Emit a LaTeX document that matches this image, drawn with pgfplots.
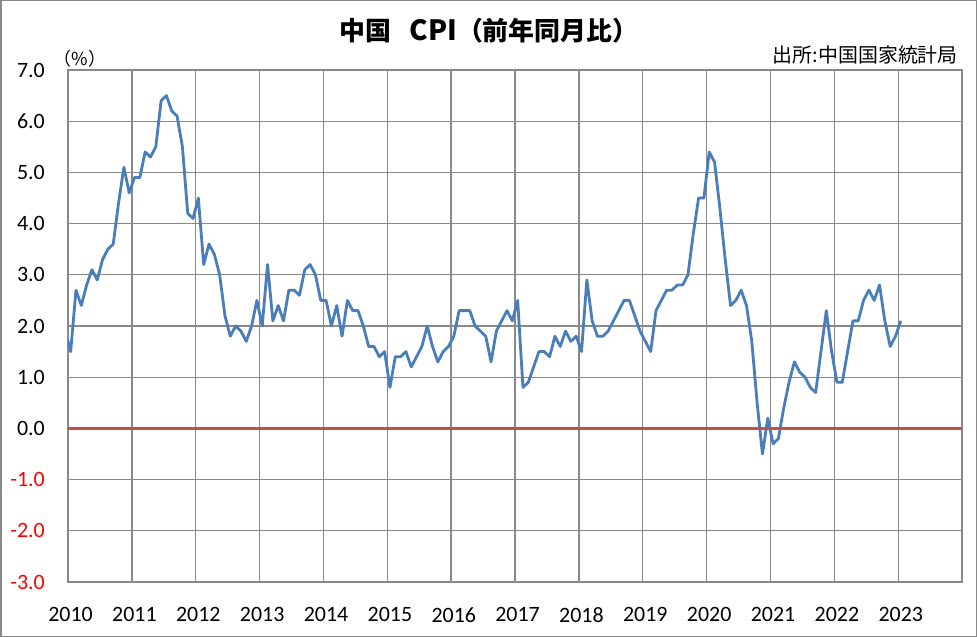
\documentclass[border=0pt]{standalone}
\usepackage{fontspec}
\setmainfont{Carlito}
\newfontfamily\cjk{Noto Sans CJK JP}
\usepackage{pgfplots}
\pgfplotsset{compat=1.18}
\usepackage{pgfplotstable}
\definecolor{gridgray}{HTML}{898989}
\definecolor{cpiblue}{HTML}{4A7EBB}
\definecolor{zerored}{HTML}{C0504D}
\definecolor{negred}{HTML}{FF0000}

\pgfplotstableread{
i v
-1 1.9
0 1.5
1 2.7
2 2.4
3 2.8
4 3.1
5 2.9
6 3.3
7 3.5
8 3.6
9 4.4
10 5.1
11 4.6
12 4.9
13 4.9
14 5.4
15 5.3
16 5.5
17 6.4
18 6.5
19 6.2
20 6.1
21 5.5
22 4.2
23 4.1
24 4.5
25 3.2
26 3.6
27 3.4
28 3.0
29 2.2
30 1.8
31 2.0
32 1.9
33 1.7
34 2.0
35 2.5
36 2.0
37 3.2
38 2.1
39 2.4
40 2.1
41 2.7
42 2.7
43 2.6
44 3.1
45 3.2
46 3.0
47 2.5
48 2.5
49 2.0
50 2.4
51 1.8
52 2.5
53 2.3
54 2.3
55 2.0
56 1.6
57 1.6
58 1.4
59 1.5
60 0.8
61 1.4
62 1.4
63 1.5
64 1.2
65 1.4
66 1.6
67 2.0
68 1.6
69 1.3
70 1.5
71 1.6
72 1.8
73 2.3
74 2.3
75 2.3
76 2.0
77 1.9
78 1.8
79 1.3
80 1.9
81 2.1
82 2.3
83 2.1
84 2.5
85 0.8
86 0.9
87 1.2
88 1.5
89 1.5
90 1.4
91 1.8
92 1.6
93 1.9
94 1.7
95 1.8
96 1.5
97 2.9
98 2.1
99 1.8
100 1.8
101 1.9
102 2.1
103 2.3
104 2.5
105 2.5
106 2.2
107 1.9
108 1.7
109 1.5
110 2.3
111 2.5
112 2.7
113 2.7
114 2.8
115 2.8
116 3.0
117 3.8
118 4.5
119 4.5
120 5.4
121 5.2
122 4.3
123 3.3
124 2.4
125 2.5
126 2.7
127 2.4
128 1.7
129 0.5
130 -0.5
131 0.2
132 -0.3
133 -0.2
134 0.4
135 0.9
136 1.3
137 1.1
138 1.0
139 0.8
140 0.7
141 1.5
142 2.3
143 1.5
144 0.9
145 0.9
146 1.5
147 2.1
148 2.1
149 2.5
150 2.7
151 2.5
152 2.8
153 2.1
154 1.6
155 1.8
156 2.1
}\cpidata

\begin{document}
\begin{tikzpicture}
\useasboundingbox (0,0) rectangle (977bp,637bp);
\fill[white] (0,0) rectangle (977bp,637bp);
\draw[gridgray, line width=1.5bp] (0.75bp,0.75bp) rectangle (976.25bp,636.25bp);
\begin{axis}[
  at={(68bp,55bp)}, anchor=south west,
  width=894bp, height=512bp, scale only axis,
  xmin=2010, xmax=2024, ymin=-3, ymax=7,
  xtick={2010,2011,2012,2013,2014,2015,2016,2017,2018,2019,2020,2021,2022,2023},
  xticklabels={2010,2011,2012,2013,2014,2015,2016,2017,2018,2019,2020,2021,2022,2023},
  ytick={-3,-2,-1,0,1,2,3,4,5,6,7},
  yticklabels={\textcolor{negred}{-3.0},\textcolor{negred}{-2.0},\textcolor{negred}{-1.0},0.0,1.0,2.0,3.0,4.0,5.0,6.0,7.0},
  scaled x ticks=false, scaled y ticks=false,
  grid=major,
  major grid style={draw=gridgray, line width=1.3bp},
  axis line style={draw=gridgray, line width=1.3bp},
  tick style={draw=none},
  x tick label style={font=\fontsize{22}{22}\selectfont, anchor=north, inner sep=0pt, yshift=-25bp, xshift=2.6bp},
  y tick label style={font=\fontsize{22}{22}\selectfont, anchor=east, inner sep=0pt, xshift=-23bp},
  clip=true,
]
\addplot[cpiblue, line width=2.8bp, no marks, line join=round] table[x expr={2010+(\thisrow{i}+0.5)/12}, y=v] {\cpidata};
\addplot[zerored, line width=2.8bp, no marks] coordinates {(2010,0) (2024,0)};
\end{axis}
\node[font=\cjk\bfseries\fontsize{26}{26}\selectfont, anchor=center] at (489bp,606.5bp) {中国\hspace{18bp}{\fontsize{28}{28}\selectfont CPI}（前年同月比）};
\node[font=\cjk\fontsize{20}{20}\selectfont, anchor=east, inner sep=0pt] at (958bp,582bp) {出所:中国国家統計局};
\node[font=\cjk\fontsize{18}{18}\selectfont, anchor=center, inner sep=0pt] at (80bp,578bp) {（\%）};
\end{tikzpicture}
\end{document}
